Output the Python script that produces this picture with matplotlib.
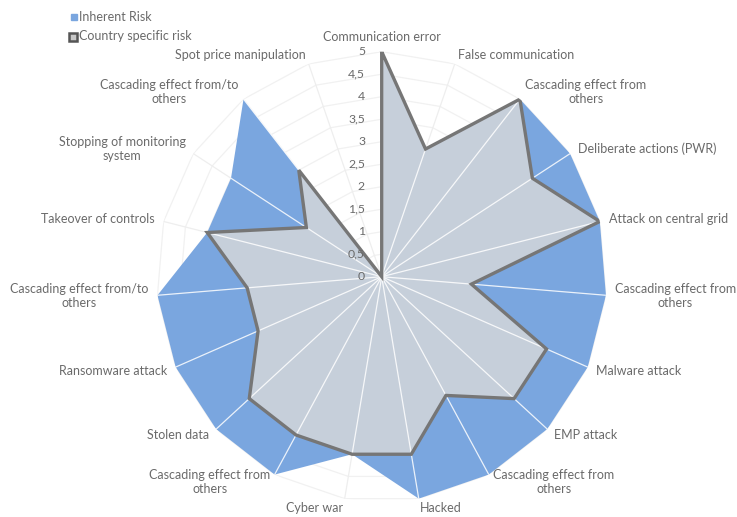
import numpy as np
import matplotlib
matplotlib.use("Agg")
import matplotlib.pyplot as plt
from matplotlib.lines import Line2D

categories = [
    "Communication error", "False communication", "Cascading effect from\nothers",
    "Deliberate actions (PWR)", "Attack on central grid", "Cascading effect from\nothers",
    "Malware attack", "EMP attack", "Cascading effect from\nothers", "Hacked",
    "Cyber war", "Cascading effect from\nothers", "Stolen data", "Ransomware attack",
    "Cascading effect from/to\nothers", "Takeover of controls",
    "Stopping of monitoring\nsystem", "Cascading effect from/to\nothers",
    "Spot price manipulation",
]
inherent_risk = [5, 3, 5, 5, 5, 5, 5, 5, 5, 5, 4, 5, 5, 5, 5, 4, 4, 5, 0]
country_risk = [5, 3, 5, 4, 5, 2, 4, 4, 3, 4, 4, 4, 4, 3, 3, 4, 2, 3, 0]
tick_values = [0, 0.5, 1, 1.5, 2, 2.5, 3, 3.5, 4, 4.5, 5]
tick_labels = ["0", "0,5", "1", "1,5", "2", "2,5", "3", "3,5", "4", "4,5", "5"]
series_names = ["Inherent Risk", "Country specific risk"]

plt.rcParams['font.family'] = ['Lato', 'DejaVu Sans']
TXT = "#6a6a6a"
BLUE = "#7aa6df"
GRAYFILL = "#c6cfda"
GRAYLINE = "#767676"

W, H = 737, 517
fig = plt.figure(figsize=(W / 100, H / 100), dpi=100)
cx, cy, R = 381.7, 276.7, 225.0
ax = fig.add_axes([(cx - R) / W, 1 - (cy + R) / H, 2 * R / W, 2 * R / H], projection='polar')
ax.set_theta_zero_location('N')
ax.set_theta_direction(-1)
ax.set_ylim(0, 5)
ax.grid(False)
ax.spines['polar'].set_visible(False)
ax.set_xticks([])
ax.set_yticks([])
ax.patch.set_alpha(0)

n = len(categories)
ang = np.arange(n) * 2 * np.pi / n
ang_c = np.append(ang, ang[0])

# polygon gridlines
for v in tick_values[1:]:
    ax.plot(ang_c, [v] * (n + 1), color="#f1f1f1", lw=0.9, zorder=1)
for a in ang:
    ax.plot([a, a], [0, 5], color="#eeeeee", lw=0.9, zorder=1)

inh = np.append(inherent_risk, inherent_risk[0])
cty = np.append(country_risk, country_risk[0])
ax.fill(ang_c, inh, color=BLUE, zorder=2, lw=0)
ax.fill(ang_c, cty, color=GRAYFILL, zorder=3, lw=0)
# white spokes over fills
for a, v in zip(ang, inherent_risk):
    ax.plot([a, a], [0, v], color="white", lw=0.9, alpha=0.85, zorder=4)
ax.plot(ang_c, cty, color=GRAYLINE, lw=2.4, zorder=5, solid_joinstyle='miter')

# radial tick labels
for v, lab in zip(tick_values, tick_labels):
    ax.annotate(lab, xy=(0, v), xytext=(-12, 0), textcoords='offset points',
                ha='right', va='center', fontsize=8.8, color=TXT, zorder=6)

# category labels
for a, lab in zip(ang, categories):
    s = np.sin(a)
    if abs(s) < 0.05:
        ha = 'center'
    elif s > 0:
        ha = 'left'
    else:
        ha = 'right'
    va = 'bottom' if a == 0 else 'center'
    ax.text(a, 5.2, lab, ha=ha, va=va, fontsize=9, color=TXT,
            multialignment='center', zorder=6)

# legend (manual)
fig.add_artist(Line2D([74 / W], [1 - 17 / H], transform=fig.transFigure, marker='s',
                      linestyle='', markersize=4, markerfacecolor=BLUE, markeredgecolor=BLUE))
fig.add_artist(Line2D([72.5 / W], [1 - 36.5 / H], transform=fig.transFigure, marker='s',
                      linestyle='', markersize=6, markerfacecolor="#c8c8c8",
                      markeredgecolor="#555555", markeredgewidth=1.8))
fig.text(79 / W, 1 - 17 / H, series_names[0], ha='left', va='center', fontsize=9, color=TXT)
fig.text(79 / W, 1 - 36.5 / H, series_names[1], ha='left', va='center', fontsize=9, color=TXT)

fig.savefig("out.png", dpi=100)
